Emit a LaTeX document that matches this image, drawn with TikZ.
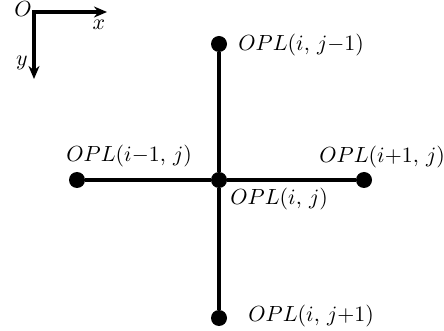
\documentclass[tikz,border=0pt]{standalone}
\usetikzlibrary{arrows.meta}
\begin{document}
\begin{tikzpicture}[x=0.5pt,y=-0.5pt,
  dot/.style={circle,fill=black,inner sep=0pt,minimum size=8pt},
  lbl/.style={inner sep=0pt,font=\fontsize{10.8}{13}\selectfont},
  link/.style={line width=1.6pt},
  axis/.style={line width=1.7pt,-{Stealth[length=6.5pt,width=5.5pt]}}]
\useasboundingbox (0,0) rectangle (444,331);
% axes
\coordinate (O) at (34,12);
\coordinate (X) at (107,12);
\coordinate (Y) at (34,79);
\draw[axis] ([xshift=-0.85pt]O) -- (X);
\draw[axis] (O) -- (Y);
\node[lbl] (lO) at (23,9) {$O$};
\node[lbl] (lx) at (99,25) {$x$};
\node[lbl] (ly) at (22,63) {$y$};
% dots
\node[dot] (c) at (219,180) {};
\node[dot] (t) at (219,44) {};
\node[dot] (b) at (219,318) {};
\node[dot] (l) at (77,180) {};
\node[dot] (r) at (364,180) {};
\draw[link] (t) -- (c) -- (b);
\draw[link] (l) -- (c) -- (r);
% labels
\node[lbl,anchor=west] (lt) at (238,45) {$OPL(i,\,j{-}1)$};
\node[lbl,anchor=west] (ll) at (66,156) {$OPL(i{-}1,\,j)$};
\node[lbl,anchor=west] (lr) at (319,157) {$OPL(i{+}1,\,j)$};
\node[lbl,anchor=west] (lc) at (230,199) {$OPL(i,\,j)$};
\node[lbl,anchor=west] (lb) at (248,316) {$OPL(i,\,j{+}1)$};
\end{tikzpicture}
\end{document}
